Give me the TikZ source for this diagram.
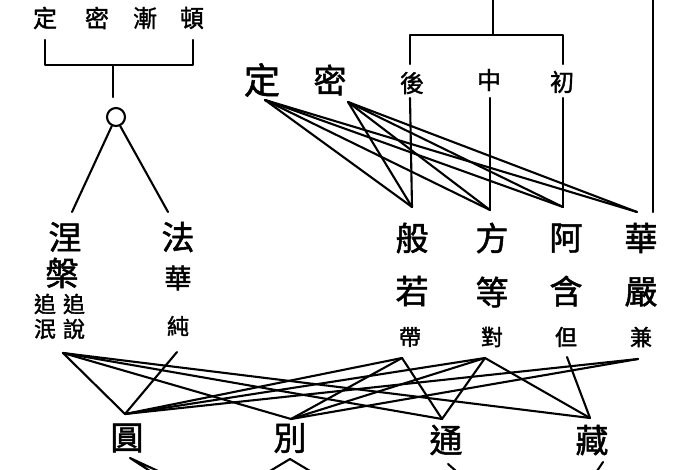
\documentclass[tikz,border=0pt]{standalone}
\usepackage{fontspec}
\newfontfamily\cjk[FakeBold=1.6]{Noto Sans CJK TC}
\begin{document}
\begin{tikzpicture}[x=1pt,y=-1pt,
  ln/.style={line width=2.1pt, line cap=round, line join=round},
  ch/.style={inner sep=0pt, font=\cjk\fontsize{33}{33}\selectfont},
  chb/.style={inner sep=0pt, font=\cjk\fontsize{36}{36}\selectfont},
  chm/.style={inner sep=0pt, font=\cjk\fontsize{27}{27}\selectfont},
  chk/.style={inner sep=0pt, font=\cjk\fontsize{24}{24}\selectfont},
  chs/.style={inner sep=0pt, font=\cjk\fontsize{22}{22}\selectfont}]
\useasboundingbox (0,0) rectangle (700,470);
\fill[white] (0,0) rectangle (700,470);

% ---- top-left: 頓 漸 秘密 不定 ----
\node[chk] (tl1) at (45,18) {定};
\node[chk] (tl2) at (97,18) {密};
\node[chk] (tl3) at (145,18) {漸};
\node[chk] (tl4) at (192,18) {頓};
\coordinate (tla) at (45,40);
\coordinate (tlb) at (45,65);
\coordinate (tlc) at (193,65);
\coordinate (tld) at (193,40);
\coordinate (tlm) at (113,65);
\coordinate (tln) at (113,97);
\draw[ln] (tla) -- (tlb) -- (tlc) -- (tld);
\draw[ln] (tlm) -- (tln);
\node[draw, circle, line width=2.1pt, minimum size=18pt, inner sep=0pt] (ring) at (116,117) {};
\coordinate (nTop) at (72,212);
\coordinate (fTop) at (168,212);
\draw[ln] (ring.245) -- (nTop);
\draw[ln] (ring.295) -- (fTop);

% ---- left middle: 涅槃 / 法華 ----
\node[ch] (n1) at (65,237) {涅};
\node[ch] (n2) at (62,273) {槃};
\node[chs] (n3) at (45,304) {追};
\node[chs] (n4) at (74,304) {追};
\node[chs] (n5) at (45,329) {泯};
\node[chs] (n6) at (74,329) {說};
\node[ch] (f1) at (178,237) {法};
\node[chm] (f2) at (178,278) {華};
\node[chs] (f3) at (178,326) {純};

% ---- top-right ----
\node[chb] (r1) at (262,80) {定};
\node[ch] (r2) at (330,80) {密};
\node[chk] (r3) at (412,83) {後};
\node[chk] (r4) at (489,80) {中};
\node[chk] (r5) at (562,82) {初};
\coordinate (tt) at (493,0);
\coordinate (tb) at (493,35);
\coordinate (hl) at (410,35);
\coordinate (hr) at (563,35);
\coordinate (hl2) at (410,64);
\coordinate (hr2) at (563,64);
\draw[ln] (tt) -- (tb);
\draw[ln] (hl2) -- (hl) -- (hr) -- (hr2);
\coordinate (vt) at (653,0);

% ---- right middle: 般若 方等 阿含 華嚴 ----
\node[ch] (g1) at (412,238) {般};
\node[ch] (p1) at (492,238) {方};
\node[ch] (a1) at (566,238) {阿};
\node[ch] (h1) at (641,238) {華};
\node[ch] (g2) at (412,291) {若};
\node[ch] (p2) at (492,292) {等};
\node[ch] (a2) at (566,291) {含};
\node[ch] (h2) at (641,292) {嚴};
\node[chs] (g3) at (410,337) {帶};
\node[chs] (p3) at (492,337) {對};
\node[chs] (a3) at (566,337) {但};
\node[chs] (h3) at (641,337) {兼};

% apex points
\coordinate (dA) at (265,100);
\coordinate (mA) at (348,102);
\coordinate (gA) at (412,207);
\coordinate (pA) at (490,210);
\coordinate (aA) at (563,207);
\coordinate (hA) at (637,212);
\coordinate (vb) at (653,212);
\coordinate (r3b) at (410,98);
\coordinate (r4b) at (490,98);
\coordinate (r5b) at (563,98);

\draw[ln] (r3b) -- (gA);
\draw[ln] (r4b) -- (pA);
\draw[ln] (r5b) -- (aA);
\draw[ln] (vt) -- (vb);
\foreach \t in {gA,pA,aA,hA}{
  \draw[ln] (dA) -- (\t);
  \draw[ln] (mA) -- (\t);
}

% ---- bottom row ----
\node[ch] (y1) at (127,438) {圓};
\node[ch] (b1) at (290,438) {別};
\node[ch] (t1) at (446,440) {通};
\node[ch] (z1) at (592,440) {藏};

\coordinate (nA) at (63,353);
\coordinate (cA) at (177,352);
\coordinate (gB) at (402,358);
\coordinate (pB) at (485,358);
\coordinate (aB) at (567,357);
\coordinate (hB) at (638,359);
\coordinate (yA) at (125,414);
\coordinate (bA) at (291,419);
\coordinate (tA) at (442,419);
\coordinate (zA) at (590,418);

\foreach \t in {yA,bA,tA,zA}{
  \draw[ln] (nA) -- (\t);
  \draw[ln] (pB) -- (\t);
}
\draw[ln] (cA) -- (yA);
\foreach \t in {yA,bA,tA}{ \draw[ln] (gB) -- (\t); }
\draw[ln] (aB) -- (zA);
\foreach \t in {yA,bA}{ \draw[ln] (hB) -- (\t); }

% ---- stubs at the bottom edge ----
\coordinate (s1) at (130,458);
\coordinate (s1a) at (150,471);
\coordinate (s1b) at (158,471);
\coordinate (s2) at (290,459);
\coordinate (s2a) at (270,471);
\coordinate (s2b) at (310,471);
\coordinate (s3) at (448,464);
\coordinate (s3a) at (456,471);
\coordinate (s4) at (603,462);
\coordinate (s4a) at (597,471);
\draw[ln] (s1a) -- (s1) -- (s1b);
\draw[ln] (s2a) -- (s2) -- (s2b);
\draw[ln] (s3) -- (s3a);
\draw[ln] (s4) -- (s4a);
\end{tikzpicture}
\end{document}
